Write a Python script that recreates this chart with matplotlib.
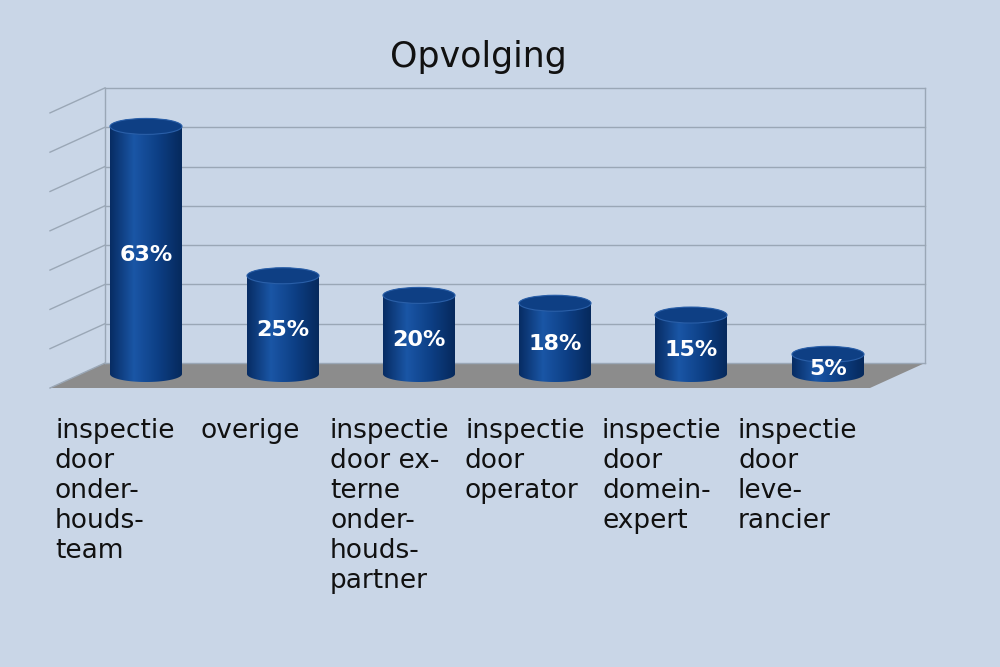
import matplotlib
matplotlib.use("Agg")
import matplotlib.pyplot as plt
import numpy as np
from matplotlib.patches import Polygon, Ellipse, PathPatch
from matplotlib.path import Path

categories = ["inspectie\ndoor\nonder-\nhouds-\nteam", "overige",
              "inspectie\ndoor ex-\nterne\nonder-\nhouds-\npartner",
              "inspectie\ndoor\noperator", "inspectie\ndoor\ndomein-\nexpert",
              "inspectie\ndoor\nleve-\nrancier"]
values = [63, 25, 20, 18, 15, 5]
labels = ["63%", "25%", "20%", "18%", "15%", "5%"]
gridticks = [0, 10, 20, 30, 40, 50, 60, 70]

bg = "#c9d6e7"
fig = plt.figure(figsize=(10, 6.67), dpi=100, facecolor=bg)
ax = fig.add_axes([0, 0, 1, 1])
ax.set_xlim(0, 1000); ax.set_ylim(667, 0); ax.axis("off")

scale = 3.93
yback0, yfront0 = 363, 388
xb0, xb1, xf0, xf1 = 105, 925, 50, 870
# walls / grid
for t in gridticks:
    y = yback0 - t * scale
    ax.plot([xb0, xb1], [y, y], color="#9aa7b6", lw=1)
    ax.plot([xf0, xb0], [y + 25, y], color="#9aa7b6", lw=1)
ax.plot([xb0, xb0], [yback0, yback0 - 70 * scale], color="#9aa7b6", lw=1)
ax.plot([xb1, xb1], [yback0, yback0 - 70 * scale], color="#9aa7b6", lw=1)
# floor
ax.add_patch(Polygon([[xf0, yfront0], [xf1, yfront0], [xb1, yback0], [xb0, yback0]],
                     closed=True, fc="#8c8c8c", ec="none"))

cmap = matplotlib.colors.LinearSegmentedColormap.from_list(
    "c", ["#072c63", "#1a56a6", "#0d3f85", "#06295c"])
grad = np.linspace(0, 1, 256)[None, :]
xs = [146, 283, 419, 555, 691, 828]
w, eh, ybot = 72, 16, 374
for x, v, lab in zip(xs, values, labels):
    ytop = ybot - v * scale
    th = np.linspace(0, np.pi, 60)
    bx = x - w / 2 * np.cos(th); by = ybot + eh / 2 * np.sin(th)
    tx = x + w / 2 * np.cos(th); ty = ytop - eh / 2 * np.sin(th)
    verts = np.vstack([np.c_[bx, by], np.c_[tx, ty], [[bx[0], by[0]]]])
    patch = PathPatch(Path(verts, closed=True), fc="none", ec="none")
    ax.add_patch(patch)
    im = ax.imshow(grad, cmap=cmap, extent=[x - w / 2, x + w / 2, ybot + eh, ytop - eh],
                   aspect="auto", zorder=3)
    im.set_clip_path(patch)
    ax.add_patch(Ellipse((x, ytop), w, eh, fc="#0e3f84", ec="#2a5fa8", lw=0.8, zorder=4))
    ax.text(x, (ytop + ybot) / 2 + 5, lab, color="white", fontsize=16, fontweight="bold",
            ha="center", va="center", zorder=5)

lx = [55, 200, 330, 465, 602, 738]
for x, c in zip(lx, categories):
    ax.text(x, 418, c, fontsize=19, ha="left", va="top", color="#111111", linespacing=1.2)
ax.text(478, 57, "Opvolging", fontsize=25, ha="center", va="center", color="#111111")
fig.savefig("out.png", dpi=100, facecolor=bg)
